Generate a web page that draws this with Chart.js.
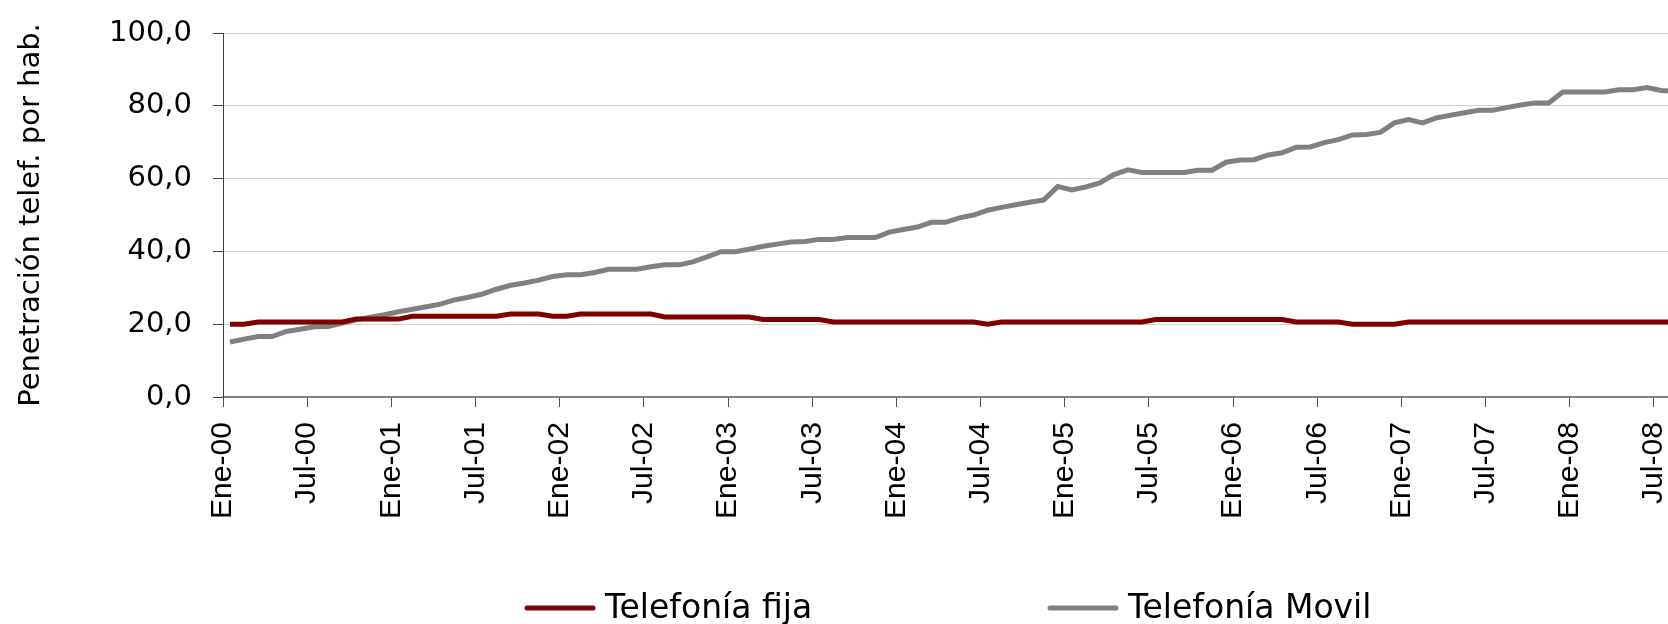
<!DOCTYPE html>
<html>
<head>
<meta charset="utf-8">
<script src="https://cdn.jsdelivr.net/npm/chart.js@4"></script>
<style>
  html, body { margin: 0; padding: 0; background: #fff; overflow: hidden; }
  #wrap { width: 1700px; height: 624px; position: relative; }
</style>
</head>
<body>
<div id="wrap"><canvas id="penetracion"></canvas></div>
<script>
// meses en castellano, ene-00 .. ago-08
const meses = ["Ene", "Feb", "Mar", "Abr", "May", "Jun", "Jul", "Ago", "Sep", "Oct", "Nov", "Dic"];
const anios = ["00", "01", "02", "03", "04", "05", "06", "07", "08"];
const numMeses = 104;

const telefonia_fija = [
  20.0, 20.0, 20.6, 20.6, 20.6, 20.6, 20.6, 20.6, 20.6, 21.4,
  21.4, 21.4, 21.4, 22.2, 22.2, 22.2, 22.2, 22.2, 22.2, 22.2,
  22.8, 22.8, 22.8, 22.2, 22.2, 22.8, 22.8, 22.8, 22.8, 22.8,
  22.8, 22.0, 22.0, 22.0, 22.0, 22.0, 22.0, 22.0, 21.3, 21.3,
  21.3, 21.3, 21.3, 20.6, 20.6, 20.6, 20.6, 20.6, 20.6, 20.6,
  20.6, 20.6, 20.6, 20.6, 20.0, 20.6, 20.6, 20.6, 20.6, 20.6,
  20.6, 20.6, 20.6, 20.6, 20.6, 20.6, 21.3, 21.3, 21.3, 21.3,
  21.3, 21.3, 21.3, 21.3, 21.3, 21.3, 20.6, 20.6, 20.6, 20.6,
  20.0, 20.0, 20.0, 20.0, 20.6, 20.6, 20.6, 20.6, 20.6, 20.6,
  20.6, 20.6, 20.6, 20.6, 20.6, 20.6, 20.6, 20.6, 20.6, 20.6,
  20.6, 20.6, 20.6, 20.6
];

const telefonia_movil = [
  15.1, 15.9, 16.6, 16.6, 18.0, 18.6, 19.3, 19.4, 20.3, 21.2,
  21.9, 22.6, 23.4, 24.1, 24.8, 25.5, 26.7, 27.4, 28.3, 29.6,
  30.7, 31.3, 32.1, 33.1, 33.6, 33.6, 34.2, 35.1, 35.1, 35.1,
  35.8, 36.3, 36.3, 37.1, 38.5, 39.9, 39.9, 40.6, 41.4, 42.0,
  42.6, 42.7, 43.3, 43.3, 43.8, 43.8, 43.8, 45.3, 46.0, 46.7,
  48.0, 48.0, 49.2, 50.0, 51.3, 52.1, 52.8, 53.5, 54.1, 57.8,
  56.9, 57.7, 58.8, 61.1, 62.4, 61.7, 61.7, 61.7, 61.7, 62.3,
  62.3, 64.5, 65.1, 65.2, 66.5, 67.1, 68.6, 68.7, 69.9, 70.7,
  72.0, 72.1, 72.7, 75.3, 76.2, 75.3, 76.7, 77.4, 78.1, 78.8,
  78.8, 79.5, 80.2, 80.8, 80.8, 83.8, 83.8, 83.8, 83.8, 84.4,
  84.4, 85.0, 84.2, 84.0
];

const yTicks = [0, 20, 40, 60, 80, 100];

let labels = [];
anios.forEach(function (a) {
  meses.forEach(function (m) {
    if (labels.length < numMeses) labels.push(m + "-" + a);
  });
});

var ctx = document.getElementById("penetracion").getContext("2d");

// tamaño de las fechas: que "Ene-00" mida unos 97px como en el original
const fuenteX = '"Liberation Sans", Arial, sans-serif';
ctx.font = '31px ' + fuenteX;
const tamX = Math.round(31 * 97 / ctx.measureText("Ene-00").width * 10) / 10;

// leyenda abajo, dibujada a mano
const leyenda = {
  id: "leyenda",
  afterDraw: function (chart) {
    let c = chart.ctx, x = 527, y = 608;
    c.save();
    c.font = '33px "DejaVu Sans"';
    c.textBaseline = "alphabetic";
    chart.data.datasets.forEach(function (ds) {
      c.strokeStyle = ds.borderColor;
      c.lineWidth = 5;
      c.lineCap = "round";
      c.beginPath();
      c.moveTo(x, y);
      c.lineTo(x + 66, y);
      c.stroke();
      c.fillStyle = "#000";
      c.fillText(ds.label, x + 78, 618);
      x += 523;
    });
    c.restore();
  }
};

var config = {
  type: "line",
  data: {
    labels: labels,
    datasets: [
      {
        label: "Telefonía fija",
        data: telefonia_fija,
        borderColor: "#800000",
        borderWidth: 5,
        pointRadius: 0,
        tension: 0,
        fill: false
      },
      {
        label: "Telefonía Movil",
        data: telefonia_movil,
        borderColor: "#808080",
        borderWidth: 5,
        pointRadius: 0,
        tension: 0,
        fill: false
      }
    ]
  },
  options: {
    responsive: true,
    maintainAspectRatio: false,
    animation: false,
    layout: { padding: { top: 33, right: 18, left: 0, bottom: 0 } },
    plugins: {
      legend: { display: false },
      tooltip: { enabled: false },
      title: { display: false }
    },
    scales: {
      x: {
        type: "category",
        offset: true,
        afterFit: function (scale) {
          scale.height = 227;
          scale.paddingLeft = 0;
          scale.paddingRight = 0;
        },
        border: { color: "#808080", width: 2 },
        grid: {
          offset: true,
          drawOnChartArea: false,
          tickLength: 10,
          color: function (c) { return c.index % 6 === 0 ? "#505050" : "rgba(0,0,0,0)"; }
        },
        ticks: {
          autoSkip: false,
          maxRotation: 90,
          minRotation: 90,
          padding: 15,
          labelOffset: -7,
          color: "#000",
          font: { family: fuenteX, size: tamX },
          callback: function (val, i) {
            return i % 6 === 0 ? this.getLabelForValue(val) : "";
          }
        }
      },
      y: {
        min: 0,
        max: 100,
        afterFit: function (scale) {
          scale.width = 223;
          scale.paddingTop = 0;
          scale.paddingBottom = 0;
        },
        afterBuildTicks: function (scale) {
          scale.ticks = yTicks.map(function (v) { return { value: v }; });
        },
        border: { color: "#404040", width: 1 },
        grid: { color: "#d0d0d0", tickColor: "#404040", tickLength: 10 },
        ticks: {
          padding: 21,
          color: "#000",
          font: { family: '"DejaVu Sans"', size: 29 },
          callback: function (v) { return v.toFixed(1).replace(".", ","); }
        },
        title: {
          display: true,
          text: "Penetración telef. por hab.",
          color: "#000",
          padding: { top: 14, bottom: 0 },
          font: { family: '"DejaVu Sans"', size: 29 }
        }
      }
    }
  },
  plugins: [leyenda]
};

// plot chart
new Chart(ctx, config);
</script>
</body>
</html>
